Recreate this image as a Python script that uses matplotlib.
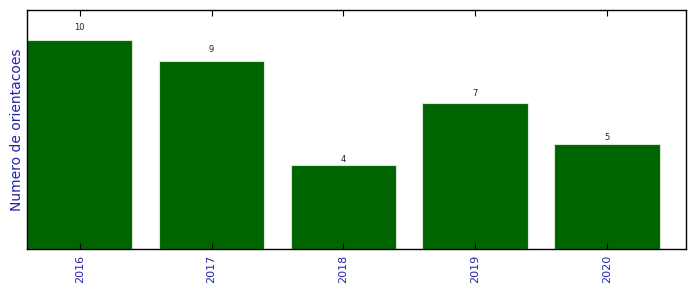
import matplotlib
matplotlib.use("Agg")
import matplotlib.pyplot as plt

years = ["2016", "2017", "2018", "2019", "2020"]
counts = [10, 9, 4, 7, 5]

fig = plt.figure(figsize=(6.96, 2.92), dpi=100)
ax = fig.add_axes([27/696, 1 - 249/292, (686-27)/696, (249-10)/292])

pos = list(range(len(years)))
bars = ax.bar(pos, counts, width=0.8, color="#006400", edgecolor="#d8e8d8", linewidth=0.8)
for b, v in zip(bars, counts):
    ax.annotate("%d" % v, (b.get_x() + b.get_width()/2, 1.05*v), xytext=(0, -2),
                textcoords="offset points", ha="center", va="bottom",
                fontsize=6, color="#222222")

ax.set_xlim(-0.4, 4.6)
ax.set_ylim(0, 11.43)
ax.set_xticks(pos)
ax.set_xticklabels(years, rotation=90, color="#2222aa", fontsize=8)
ax.set_yticks([])
ax.set_ylabel("Numero de orientacoes", color="#2222aa", fontsize=10, labelpad=2)
ax.tick_params(axis="x", direction="in", top=True, length=4, width=0.8, pad=4)
for s in ax.spines.values():
    s.set_linewidth(1.0)

fig.savefig("out.png", dpi=100)
